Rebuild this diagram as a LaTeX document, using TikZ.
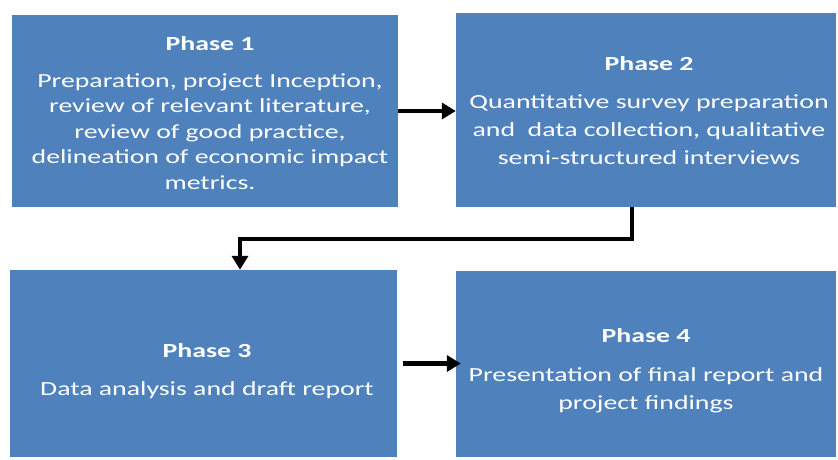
\documentclass[tikz,border=0pt]{standalone}
\usepackage{fontspec}
\usepackage{graphicx}
\setmainfont{Carlito}
\usetikzlibrary{arrows.meta}
\definecolor{phaseblue}{HTML}{4F81BD}
% wide centred lines; #1 pushes the block down, #2 pushes it right
\newcommand\phasetext[3]{\hspace*{#2}\raisebox{0pt}[\dimexpr\height+#1\relax]{%
  \scalebox{1.39}[1]{\begin{tabular}{@{}c@{}}#3\end{tabular}}}}
\tikzset{
  phase/.style={fill=phaseblue, text=white, align=center, inner sep=0pt,
    font=\fontsize{20}{25.5}\selectfont},
  flow/.style={line width=4.5pt, -{Triangle[length=14pt, width=16pt]}}
}
\begin{document}
\begin{tikzpicture}[x=1pt, y=-1pt]
\useasboundingbox (0,0) rectangle (838,459);
% the four phases
\node[phase, minimum width=386pt, minimum height=192pt] (p1) at (205,111)
  {\phasetext{8pt}{10pt}{\textbf{Phase 1}\\[11pt] Preparation, project Inception,\\ review of relevant literature,\\
   review of good practice,\\ delineation of economic impact\\ metrics.}};
\node[phase, minimum width=380pt, minimum height=194pt] (p2) at (646,110)
  {\phasetext{4pt}{6pt}{\textbf{Phase 2}\\[13pt] Quantitative survey preparation\\[2.5pt] and\ \ data collection, qualitative\\[2pt]
   semi-structured interviews}};
\node[phase, minimum width=387pt, minimum height=187pt] (p3) at (203.5,363.5)
  {\phasetext{16pt}{7pt}{\textbf{Phase 3}\\[12pt] Data analysis and draft report}};
\node[phase, minimum width=380pt, minimum height=186pt] (p4) at (646,364)
  {\phasetext{14pt}{0pt}{\textbf{Phase 4}\\[13pt] Presentation of final report and\\[2.5pt] project findings}};
% arrows between phases
\draw[flow] (p1.east) -- (p1.east -| p2.west);
\draw[flow] ([xshift=-14pt]p2.south) -- ++(0,32) -| ([xshift=36.5pt]p3.north);
\draw[flow] ([xshift=6pt]p3.east) -- ([xshift=5pt]p3.east -| p4.west);
\end{tikzpicture}
\end{document}
